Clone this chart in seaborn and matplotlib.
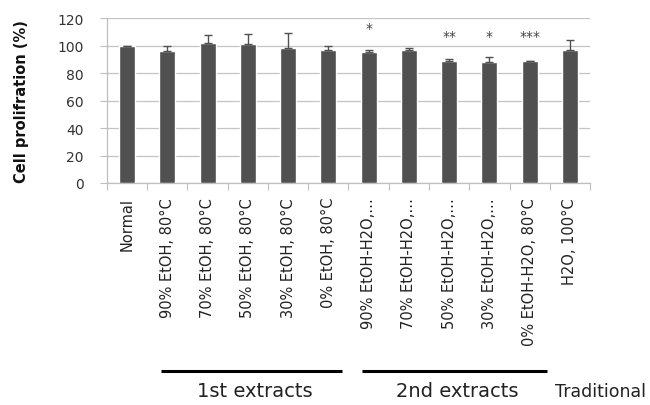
import numpy as np
import pandas as pd
import matplotlib
matplotlib.use("Agg")
import matplotlib.pyplot as plt
import matplotlib.transforms as mtransforms
from matplotlib.ticker import FixedLocator
import seaborn as sns

# Treatment groups and measured proliferation
categories = [
    "Normal",
    "90% EtOH, 80°C", "70% EtOH, 80°C", "50% EtOH, 80°C", "30% EtOH, 80°C", "0% EtOH, 80°C",
    "90% EtOH-H2O,…", "70% EtOH-H2O,…", "50% EtOH-H2O,…", "30% EtOH-H2O,…",
    "0% EtOH-H2O, 80°C", "H2O, 100°C",
]
proliferation = [100, 96, 102, 101, 98, 96.5, 95.5, 96.5, 88.7, 88, 88.5, 97]
error_up = [0, 4, 6, 7.5, 11, 3, 1, 2, 1.3, 4, 0.3, 7]
significance = ["", "", "", "", "", "", "*", "", "**", "*", "***", ""]
y_ticks = [0, 20, 40, 60, 80, 100, 120]

sns.set_theme(style="white")
plt.rcParams["font.family"] = ["DejaVu Sans"]

df = pd.DataFrame({"group": categories, "value": proliferation})

fig = plt.figure(figsize=(6.5, 4.06), dpi=100)
ax = fig.add_axes([0.1646, 0.5468, 0.7431, 0.4062])

bar_color = "#505050"
sns.barplot(data=df, x="group", y="value", color=bar_color, width=0.4,
            saturation=1, errorbar=None, ax=ax, zorder=3)

x = np.arange(len(categories))
ax.errorbar(x, proliferation, yerr=[np.zeros(len(x)), error_up], fmt="none",
            ecolor="#505050", elinewidth=1.0, capsize=3, capthick=1.0, zorder=4)

# Significance marks above selected bars
for xi, label in zip(x, significance):
    if label:
        ypos = 113 if xi == 6 else 107
        ax.text(xi, ypos, label, ha="center", va="center", fontsize=10, color="#444444")

ax.set_ylim(0, 120)
ax.set_xlim(-0.5, len(categories) - 0.5)
ax.set_yticks(y_ticks)
ax.yaxis.grid(True, color="#c4c4c4", linewidth=0.9)
ax.set_axisbelow(True)
ax.tick_params(axis="y", labelsize=10, colors="#333333", length=5, width=0.8,
               color="#bfbfbf", pad=12, left=True, direction="out")

ax.set_xlabel("")
ax.set_xticks(x)
ax.set_xticklabels(categories, rotation=90, fontsize=10.5, color="#222222")
ax.tick_params(axis="x", length=0, pad=10)
ax.xaxis.set_minor_locator(FixedLocator(np.arange(-0.5, len(categories), 1.0)))
ax.tick_params(axis="x", which="minor", length=5, width=0.8, color="#bfbfbf",
               bottom=True, direction="out")

for side in ["top", "right"]:
    ax.spines[side].set_visible(False)
for side in ["left", "bottom"]:
    ax.spines[side].set_color("#bfbfbf")
    ax.spines[side].set_linewidth(0.9)

ax.set_ylabel("Cell prolifration (%)", fontsize=10.5, fontweight="bold", color="#111111",
              labelpad=20)

# Group brackets beneath the rotated labels
trans = mtransforms.blended_transform_factory(ax.transData, fig.transFigure)
line_y = 1 - 372 / 406
ax.plot([0.84, 5.34], [line_y, line_y], transform=trans, color="black", lw=2.2,
        clip_on=False, solid_capstyle="butt")
ax.plot([5.83, 10.43], [line_y, line_y], transform=trans, color="black", lw=2.2,
        clip_on=False, solid_capstyle="butt")
text_y = 1 - 392 / 406
ax.text(3.17, text_y, "1st extracts", transform=trans, ha="center", va="center",
        fontsize=14, color="#222222")
ax.text(8.2, text_y, "2nd extracts", transform=trans, ha="center", va="center",
        fontsize=14, color="#222222")
ax.text(10.63, text_y, "Traditional", transform=trans, ha="left", va="center",
        fontsize=12.5, color="#222222")

fig.savefig("out.png", dpi=100, facecolor="white")
